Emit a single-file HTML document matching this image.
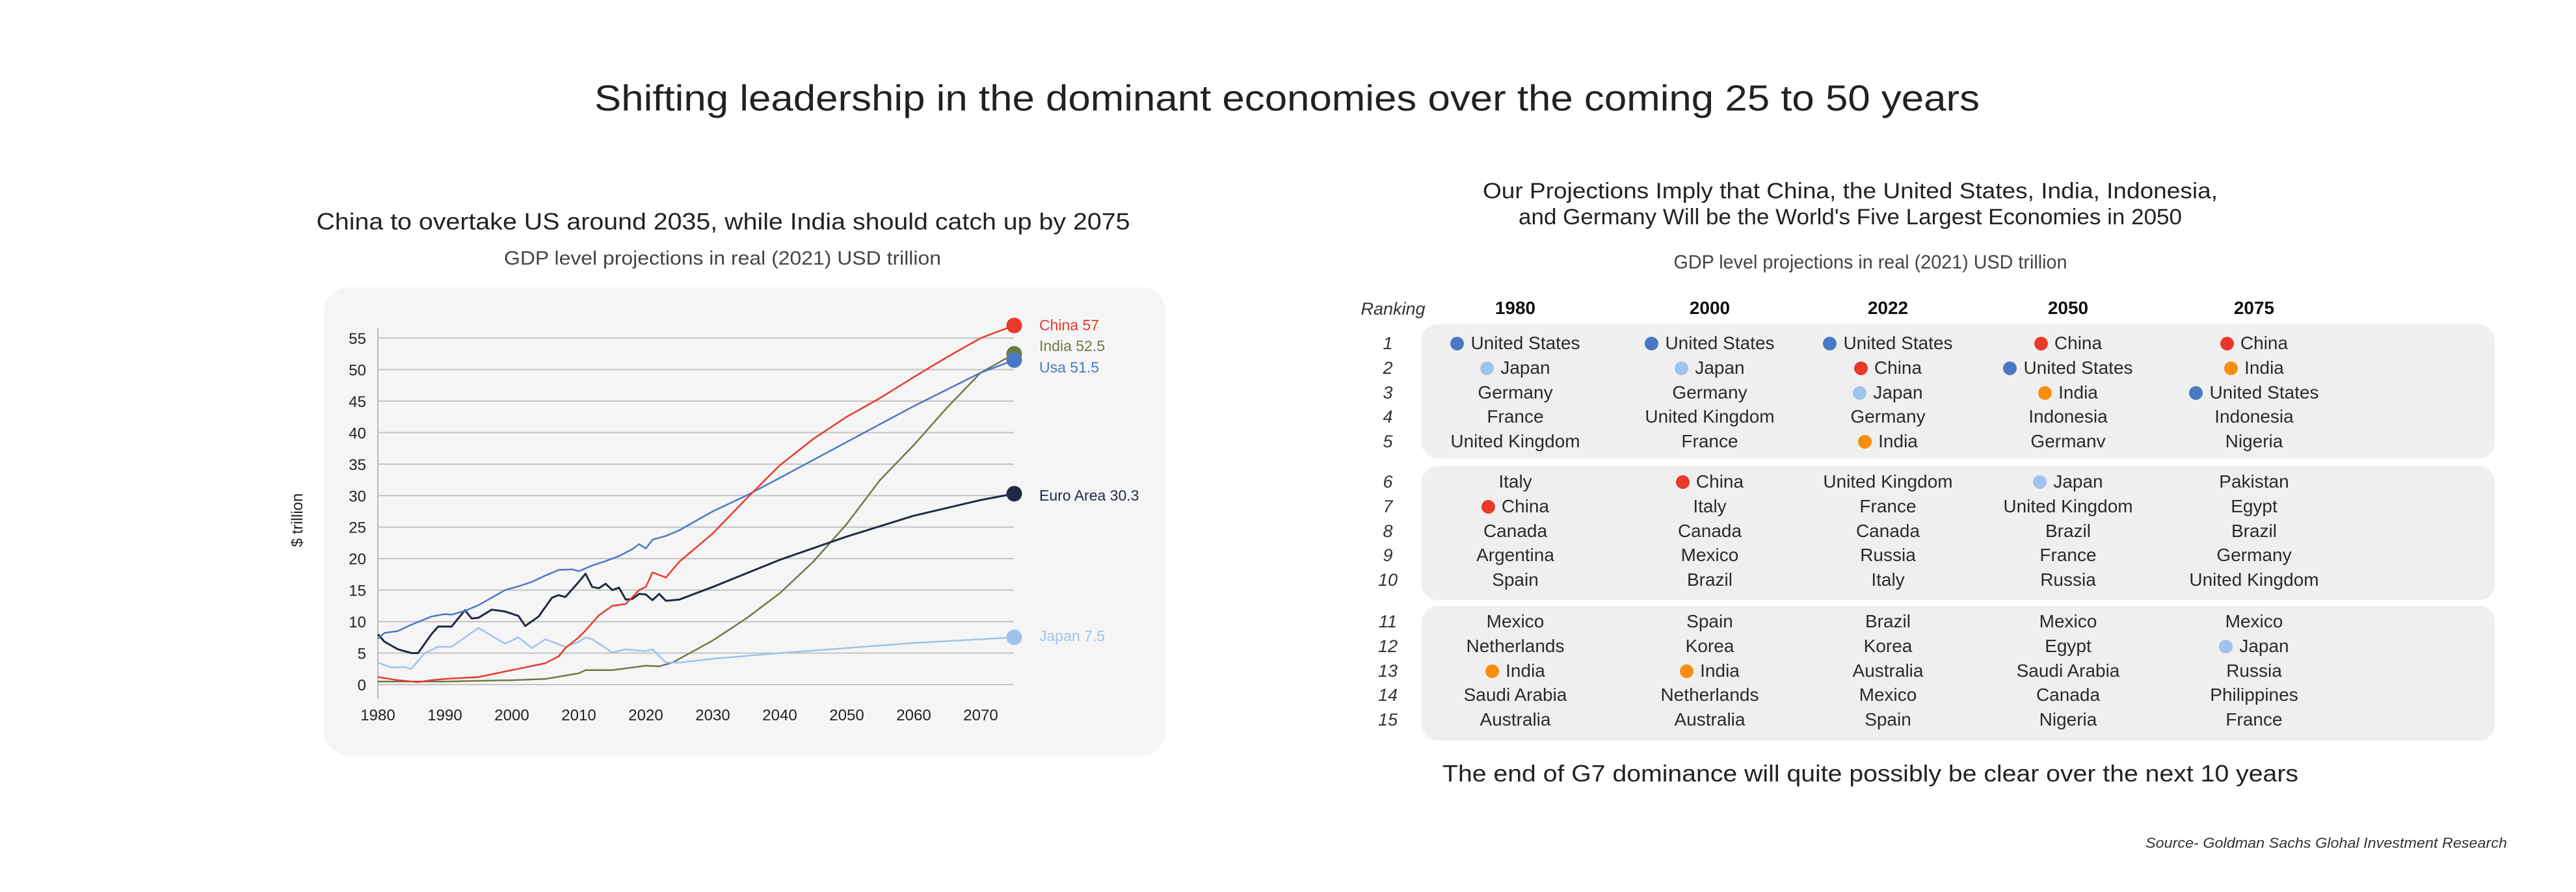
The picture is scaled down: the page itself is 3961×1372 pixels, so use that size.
<!DOCTYPE html>
<html><head><meta charset="utf-8">
<style>
html,body{margin:0;padding:0;background:#fff;}
body{width:3961px;height:1372px;position:relative;overflow:hidden;font-family:"Liberation Sans",sans-serif;color:#222;}
.abs{position:absolute;}
.box{position:absolute;left:2186px;width:1650px;background:#efefef;border-radius:24px;}
.cell{position:absolute;width:290px;margin-left:-145px;text-align:center;font-size:28px;color:#2a2a2a;white-space:nowrap;height:38px;line-height:38px;}
.dot{display:inline-block;width:21px;height:21px;border-radius:50%;margin-right:10px;vertical-align:-2px;}
.rank{position:absolute;width:60px;margin-left:-30px;text-align:center;font-style:italic;font-size:27px;color:#333;height:38px;line-height:38px;}
.hdr{position:absolute;width:200px;margin-left:-100px;text-align:center;font-weight:bold;font-size:28px;color:#111;}
</style></head>
<body>
<svg class="abs" style="left:0;top:0" width="3961" height="1372">
  <text x="1979" y="170" text-anchor="middle" font-size="56" fill="#222" textLength="2130" lengthAdjust="spacingAndGlyphs" font-family="Liberation Sans, sans-serif">Shifting leadership in the dominant economies over the coming 25 to 50 years</text>
  <text x="1112" y="353" text-anchor="middle" font-size="36" fill="#222" textLength="1251" lengthAdjust="spacingAndGlyphs" font-family="Liberation Sans, sans-serif">China to overtake US around 2035, while India should catch up by 2075</text>
  <text x="1111" y="407" text-anchor="middle" font-size="30" fill="#444" textLength="672" lengthAdjust="spacingAndGlyphs" font-family="Liberation Sans, sans-serif">GDP level projections in real (2021) USD trillion</text>
  <text x="2845" y="305" text-anchor="middle" font-size="34" fill="#222" textLength="1130" lengthAdjust="spacingAndGlyphs" font-family="Liberation Sans, sans-serif">Our Projections Imply that China, the United States, India, Indonesia,</text>
  <text x="2845" y="345" text-anchor="middle" font-size="34" fill="#222" textLength="1020" lengthAdjust="spacingAndGlyphs" font-family="Liberation Sans, sans-serif">and Germany Will be the World's Five Largest Economies in 2050</text>
  <text x="2876" y="413" text-anchor="middle" font-size="30" fill="#444" textLength="605" lengthAdjust="spacingAndGlyphs" font-family="Liberation Sans, sans-serif">GDP level projections in real (2021) USD trillion</text>
  <text x="2876" y="1202" text-anchor="middle" font-size="36" fill="#222" textLength="1316" lengthAdjust="spacingAndGlyphs" font-family="Liberation Sans, sans-serif">The end of G7 dominance will quite possibly be clear over the next 10 years</text>
  <text x="3855" y="1304" text-anchor="end" font-size="22" font-style="italic" fill="#333" textLength="556" lengthAdjust="spacingAndGlyphs" font-family="Liberation Sans, sans-serif">Source- Goldman Sachs Glohal Investment Research</text>
</svg>

<div class="abs" style="left:498px;top:442px;width:1295px;height:720px;background:#f5f5f5;border-radius:38px;"></div>
<svg id="chart" class="abs" style="left:0;top:0" width="1900" height="1200"></svg>

<div id="table"></div>

<script>
// ---- chart data ----
const yTicks=[0,5,10,15,20,25,30,35,40,45,50,55];
const xTicks=[1980,1990,2000,2010,2020,2030,2040,2050,2060,2070];
const usYears=[1980,1981,1983,1985,1988,1990,1991,1993,1995,1997,1999,2001,2003,2005,2007,2009,2010,2012,2014,2016,2018,2019,2020,2021,2023,2025,2030,2035,2040,2050,2060,2070,2075];
const usVals=[7.3,8.2,8.5,9.5,10.8,11.2,11.1,11.7,12.6,13.8,15.0,15.6,16.3,17.3,18.2,18.3,18.0,18.9,19.6,20.4,21.5,22.3,21.6,23.0,23.6,24.5,27.5,30.0,32.8,38.5,44.2,49.5,51.5];
const chinaYears=[1980,1983,1986,1988,1990,1995,2000,2005,2007,2008,2010,2011,2013,2015,2017,2019,2020,2021,2023,2025,2027,2030,2035,2040,2045,2050,2055,2060,2065,2070,2075];
const chinaVals=[1.2,0.7,0.4,0.7,0.9,1.2,2.3,3.4,4.5,5.8,7.5,8.6,11.0,12.5,12.8,15.0,15.5,17.8,17.0,19.5,21.3,24.0,29.5,34.8,39.0,42.5,45.5,48.8,52.0,55.0,57.0];
const japanYears=[1980,1982,1984,1985,1987,1989,1991,1995,1999,2001,2003,2005,2008,2010,2011,2012,2015,2017,2020,2021,2023,2025,2030,2040,2050,2060,2075];
const japanVals=[3.5,2.7,2.8,2.5,5.0,6.0,6.0,9.0,6.5,7.5,5.8,7.2,6.0,6.8,7.5,7.2,5.1,5.6,5.3,5.6,3.5,3.5,4.1,5.0,5.8,6.6,7.5];
const euroYears=[1980,1981,1983,1985,1986,1988,1989,1991,1992,1993,1994,1995,1997,1999,2001,2002,2004,2006,2007,2008,2010,2011,2012,2013,2014,2015,2016,2017,2018,2019,2020,2021,2022,2023,2025,2030,2040,2050,2060,2070,2075];
const euroVals=[8.0,6.8,5.6,5.0,5.0,8.0,9.2,9.2,10.5,11.8,10.5,10.6,11.9,11.6,10.9,9.3,10.8,13.8,14.2,13.9,16.3,17.6,15.5,15.3,16.0,15.0,15.4,13.5,13.6,14.4,14.3,13.4,14.4,13.3,13.5,15.5,19.8,23.5,26.8,29.3,30.3];
const indiaYears=[1980,1990,2000,2005,2010,2011,2015,2020,2022,2024,2030,2035,2040,2045,2050,2055,2060,2065,2070,2075];
const indiaVals=[0.5,0.5,0.7,0.9,1.8,2.3,2.3,3.0,2.9,3.5,7.0,10.5,14.5,19.5,25.5,32.5,38.0,44.0,49.5,52.5];
const seriesNames=["China 57","India 52.5","Usa 51.5","Euro Area 30.3","Japan 7.5"];

const NS="http://www.w3.org/2000/svg";
const svg=document.getElementById('chart');
function xs(yr){return 581+(yr-1980)*(1508-581)/90;}
function ys(v){return 1053-v*(1053-520)/55;}
function mk(tag,attrs){const e=document.createElementNS(NS,tag);for(const k in attrs)e.setAttribute(k,attrs[k]);svg.appendChild(e);return e;}

yTicks.forEach(t=>{
  const l=mk('line',{x1:581,x2:1559,y1:ys(t),y2:ys(t),stroke:'#c4c4c4','stroke-width':2});
  
  
  const tx=mk('text',{x:563,y:ys(t)+9,'text-anchor':'end','font-size':24,fill:'#222','font-family':'Liberation Sans, sans-serif'});
  tx.textContent=t;
  
  
});
const ax=mk('line',{x1:581,x2:581,y1:505,y2:1075,stroke:'#bbb','stroke-width':2});


xTicks.forEach(t=>{
  const tx=mk('text',{x:xs(t),y:1108,'text-anchor':'middle','font-size':24,fill:'#222','font-family':'Liberation Sans, sans-serif'});
  tx.textContent=t;
  
  
});
const yt=mk('text',{x:0,y:0,transform:'translate(465,800) rotate(-90)','text-anchor':'middle','font-size':24,fill:'#222','font-family':'Liberation Sans, sans-serif'});
yt.textContent='$ trillion';



const series=[
 {k:'india',yrs:indiaYears,vals:indiaVals,c:'#6b7a45',w:2.5,ly:540},
 {k:'japan',yrs:japanYears,vals:japanVals,c:'#9fc3ee',w:2.5,ly:986},
 {k:'euro',yrs:euroYears,vals:euroVals,c:'#1f2a44',w:3,ly:770},
 {k:'usa',yrs:usYears,vals:usVals,c:'#4a78c5',w:2.5,ly:573},
 {k:'china',yrs:chinaYears,vals:chinaVals,c:'#e8392b',w:2.5,ly:508}
];
const labelIdx={china:0,india:1,usa:2,euro:3,japan:4};
series.forEach(s=>{
  const pts=s.yrs.map((y,i)=>xs(y).toFixed(1)+','+ys(s.vals[i]).toFixed(1)).join(' ');
  const p=mk('polyline',{points:pts,fill:'none',stroke:s.c,'stroke-width':s.w,'stroke-linejoin':'round'});
  
  
});
series.forEach(s=>{
  const n=s.yrs.length-1;
  const d=mk('circle',{cx:xs(s.yrs[n]),cy:ys(s.vals[n]),r:12,fill:s.c});
  
  
  const t=mk('text',{x:1598,y:s.ly,'font-size':23,fill:s.c,'font-family':'Liberation Sans, sans-serif'});
  t.textContent=seriesNames[labelIdx[s.k]];
  
  
});

// ---- table ----
const cols=[2330,2629,2903,3180,3466];
const years=["1980","2000","2022","2050","2075"];
const colData=[
 ["United States","Japan","Germany","France","United Kingdom","Italy","China","Canada","Argentina","Spain","Mexico","Netherlands","India","Saudi Arabia","Australia"],
 ["United States","Japan","Germany","United Kingdom","France","China","Italy","Canada","Mexico","Brazil","Spain","Korea","India","Netherlands","Australia"],
 ["United States","China","Japan","Germany","India","United Kingdom","France","Canada","Russia","Italy","Brazil","Korea","Australia","Mexico","Spain"],
 ["China","United States","India","Indonesia","Germanv","Japan","United Kingdom","Brazil","France","Russia","Mexico","Egypt","Saudi Arabia","Canada","Nigeria"],
 ["China","India","United States","Indonesia","Nigeria","Pakistan","Egypt","Brazil","Germany","United Kingdom","Mexico","Japan","Russia","Philippines","France"]
];
const dotColors={"United States":"#4a78c5","Japan":"#9fc3ee","China":"#e8392b","India":"#f98d10"};
const tbl=document.getElementById('table');
const boxTops=[499,717,932],boxH=[206,206,207];
boxTops.forEach((t,i)=>{
  const b=document.createElement('div');b.className='box';b.style.top=t+'px';b.style.height=boxH[i]+'px';
  
  
  tbl.appendChild(b);
});
function rowY(r){const g=Math.floor(r/5);const base=[528,741,956][g];return base+(r%5)*37.8;}
const rk=document.createElement('div');rk.className='rank';rk.style.left='2142px';rk.style.top='456px';rk.style.width='110px';rk.style.marginLeft='-55px';rk.textContent='Ranking';


tbl.appendChild(rk);
years.forEach((y,i)=>{
  const h=document.createElement('div');h.className='hdr';h.style.left=cols[i]+'px';h.style.top='458px';h.textContent=y;
  
  
  tbl.appendChild(h);
});
for(let r=0;r<15;r++){
  const n=document.createElement('div');n.className='rank';n.style.left='2134px';n.style.top=(rowY(r)-19)+'px';n.textContent=r+1;
  
  
  tbl.appendChild(n);
}
colData.forEach((col,ci)=>{
  col.forEach((name,r)=>{
    const c=document.createElement('div');c.className='cell';c.style.left=cols[ci]+'px';c.style.top=(rowY(r)-19)+'px';
    
    
    if(dotColors[name]){const d=document.createElement('span');d.className='dot';d.style.background=dotColors[name];c.appendChild(d);}
    c.appendChild(document.createTextNode(name));
    tbl.appendChild(c);
  });
});
</script>
</body></html>
